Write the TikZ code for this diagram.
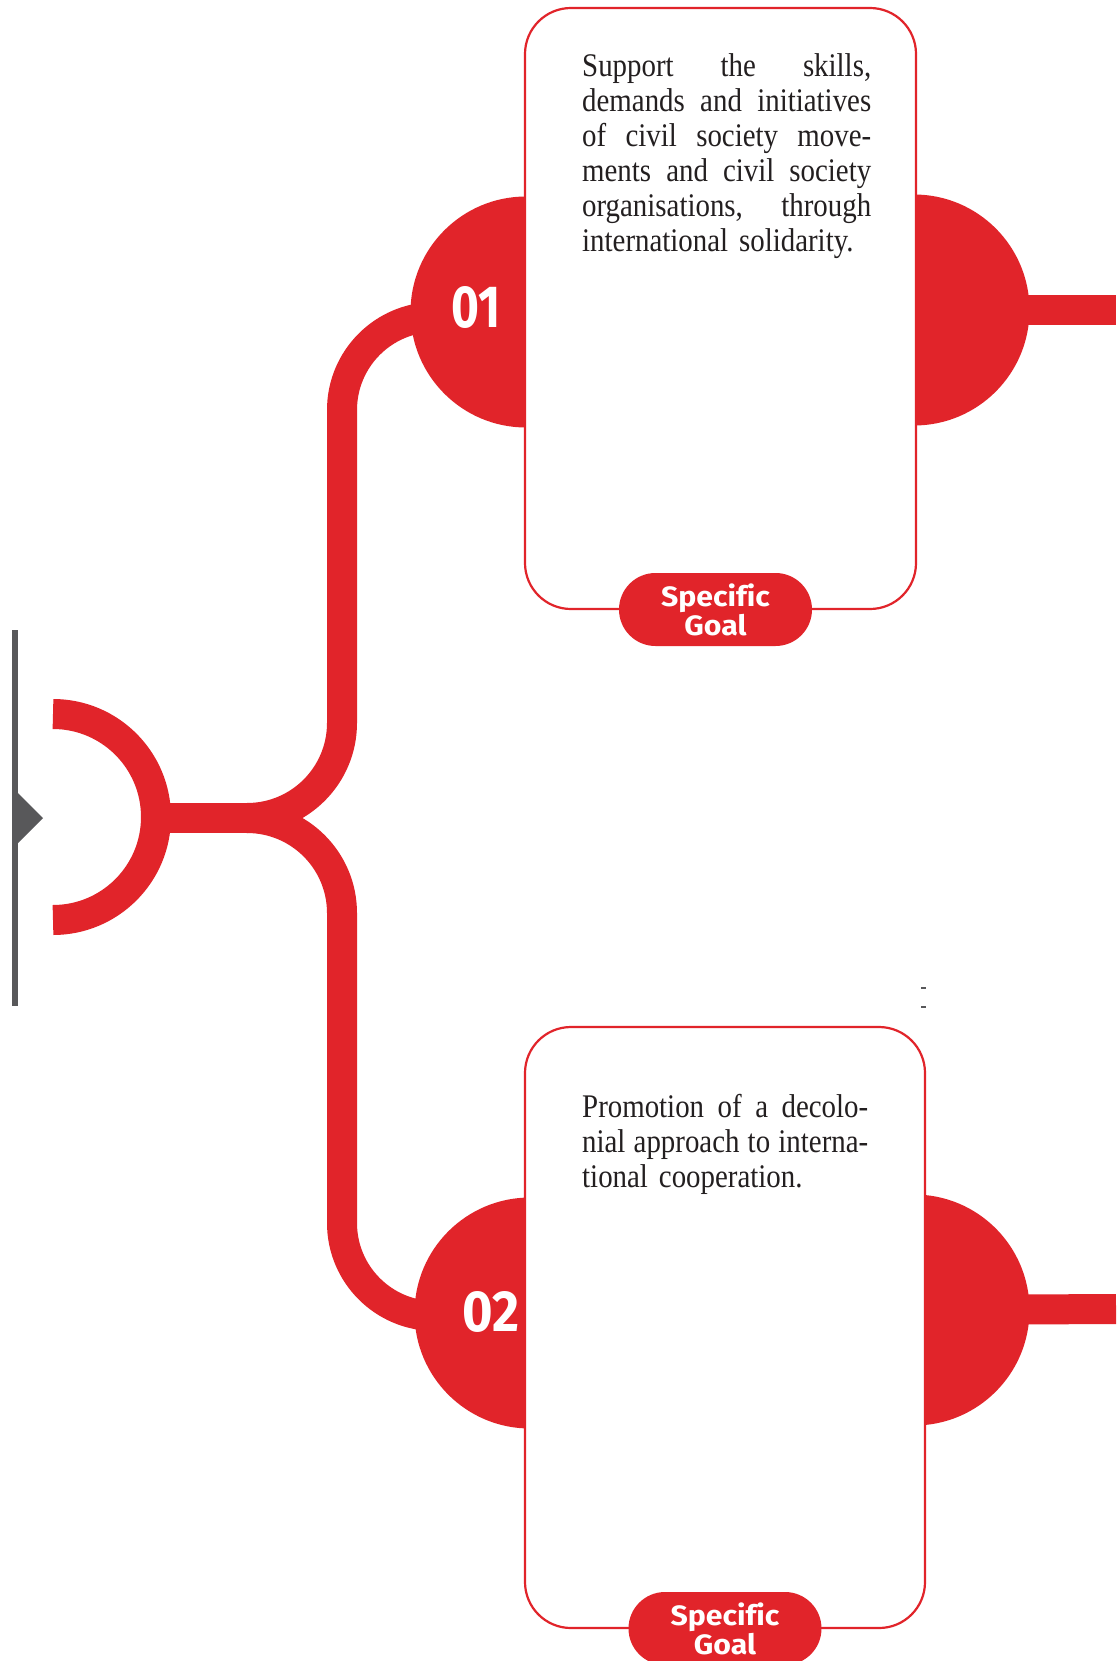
\documentclass[tikz,border=0pt]{standalone}
\usepackage{fontspec}
\usepackage{graphicx}
\usetikzlibrary{backgrounds}
\setmainfont{Liberation Serif}[FakeStretch=0.875]
\newfontfamily\labelfont{Fira Sans}
\newfontfamily\pillfont{Fira Sans}[FakeStretch=1.08, Ligatures=CommonOff]
\definecolor{brandred}{HTML}{E1242A}
\definecolor{markgray}{HTML}{58585A}
\definecolor{inkgray}{HTML}{231F20}
\newcommand{\spreadline}[2]{\leavevmode\hbox to #1{\spaceskip=\fontdimen2\font plus 1fil\xspaceskip=\spaceskip\relax #2}}
\begin{document}
\begin{tikzpicture}[x=1pt,y=-1pt,
  trunk/.style={draw=brandred, line width=30pt},
  disc/.style={circle, fill=brandred, minimum size=231pt, inner sep=0pt},
  goalbox/.style={rectangle, draw=brandred, line width=2.2pt, fill=white, rounded corners=46pt, inner sep=0pt},
  pill/.style={rectangle, fill=brandred, rounded corners=36.5pt, minimum width=193pt, minimum height=73pt, inner sep=0pt, text=white, align=center, font=\pillfont\bfseries\fontsize{28}{29}\selectfont},
  numlabel/.style={anchor=west, inner sep=0pt, text=white, font=\labelfont\bfseries},
  bodytext/.style={anchor=base west, inner sep=0pt, text width=#1, align=left, text=inkgray, font=\fontsize{33}{35}\selectfont},
  tick/.style={fill=markgray}
]
\useasboundingbox (0,0) rectangle (1116,1661);

% discs
\node[disc] (c01) at (526,312) {};
\node[disc] (r01) at (914,310) {};
\node[disc] (c02) at (530,1313) {};
\node[disc] (r02) at (914,1310) {};

% cards
\node[goalbox, minimum width=391pt, minimum height=601pt] (box1) at (720.5,308.5) {};
\node[goalbox, minimum width=400pt, minimum height=601pt] (box2) at (725,1327.5) {};

% pills
\node[pill] (goal1) at (715.5,609.5) {Specific\\Goal};
\node[pill] (goal2) at (725,1628.5) {Specific\\Goal};

% numbers
\node[numlabel] (n01) at (451,307.5) {\resizebox{49pt}{41pt}{01}};
\node[numlabel] (n02) at (462,1312) {\resizebox{57pt}{40pt}{02}};

% texts
\node[bodytext=289pt] (t1) at (582,77) {%
\spreadline{289pt}{Support the skills,}\\
\spreadline{289pt}{demands and initiatives}\\
\spreadline{289pt}{of civil society move-}\\
\spreadline{289pt}{ments and civil society}\\
\spreadline{289pt}{organisations, through}\\
international solidarity.};
\node[bodytext=286pt] (t2) at (582,1117) {%
\spreadline{286pt}{Promotion of a decolo-}\\
\spreadline{286pt}{nial approach to interna-}\\
tional cooperation.};

\coordinate (ringtop) at (53,714);
\coordinate (ringmid) at (156,818);
\coordinate (hub) at (247,818);
\coordinate (e1) at (1116,310);
\coordinate (e2) at (1116,1309);

% stray marks
\fill[tick] (921,987) rectangle (926,989);
\fill[tick] (921,1006) rectangle (926,1008);

\begin{scope}[on background layer]
\fill[white] (0,0) rectangle (1116,1661);
\fill[markgray] (12,630) rectangle (18,1006);
\fill[markgray] (18,793) -- (43,818) -- (18,843) -- cycle;
\draw[trunk] (ringtop) arc[start angle=90, end angle=-90, radius=103pt];
\draw[trunk] (ringmid) -- (hub);
\draw[trunk] (hub) arc[start angle=-90, end angle=0, radius=95pt] -- (342,410)
  arc[start angle=180, end angle=90, radius=93pt] -- (c01.center);
\draw[trunk] (hub) arc[start angle=90, end angle=0, radius=95pt] -- (342,1223)
  arc[start angle=180, end angle=270, radius=93pt] -- (c02.center);
\draw[trunk] (r01.center) -- (e1);
\draw[trunk] (r02.center) -- (e2);
\end{scope}
\end{tikzpicture}
\end{document}
